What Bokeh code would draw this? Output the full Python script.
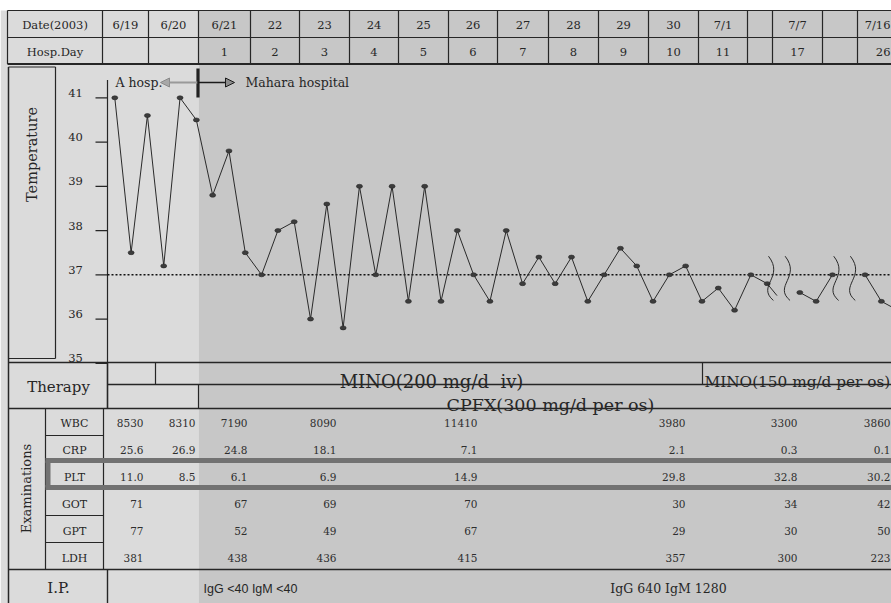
import math
from bokeh.plotting import figure
from bokeh.models import Range1d, Arrow, NormalHead
from bokeh.core.properties import value
from bokeh.embed import file_html
from bokeh.resources import INLINE

W, H = 891, 603

# ---------------- data ----------------
date_labels = ["6/19", "6/20", "6/21", "22", "23", "24", "25", "26", "27", "28",
               "29", "30", "7/1", "", "7/7", "", "7/16"]
hosp_day_labels = ["", "", "1", "2", "3", "4", "5", "6", "7", "8",
                   "9", "10", "11", "", "17", "", "26"]

# body temperature (deg C), three readings a day from 6/19
temp_main = [41.0, 37.5, 40.6, 37.2, 41.0, 40.5, 38.8, 39.8, 37.5, 37.0,
             38.0, 38.2, 36.0, 38.6, 35.8, 39.0, 37.0, 39.0, 36.4, 39.0,
             36.4, 38.0, 37.0, 36.4, 38.0, 36.8, 37.4, 36.8, 37.4, 36.4,
             37.0, 37.6, 37.2, 36.4, 37.0, 37.2, 36.4, 36.7, 36.2, 37.0, 36.8]
temp_jul7 = [36.6, 36.4, 37.0]
temp_jul16 = [37.0, 36.4, 36.2]
temp_ticks = [35, 36, 37, 38, 39, 40, 41]

exam_names = ["WBC", "CRP", "PLT", "GOT", "GPT", "LDH"]
wbc = ["8530", "8310", "7190", "8090", "11410", "3980", "3300", "3860"]
crp = ["25.6", "26.9", "24.8", "18.1", "7.1", "2.1", "0.3", "0.1"]
plt_count = ["11.0", "8.5", "6.1", "6.9", "14.9", "29.8", "32.8", "30.2"]
got = ["71", "", "67", "69", "70", "30", "34", "42"]
gpt = ["77", "", "52", "49", "67", "29", "30", "50"]
ldh = ["381", "", "438", "436", "415", "357", "300", "223"]

therapy_iv = "MINO(200 mg/d\u00a0 iv)"
therapy_os = "MINO(150 mg/d per os)"
therapy_cpfx = "CPFX(300 mg/d per os)"
ip_early = "IgG <40 IgM <40"
ip_late = "IgG 640 IgM 1280"

# ---------------- layout (page pixels) ----------------
col_edges = [102, 148, 198, 250, 299, 349, 398, 448, 497, 548, 598, 648,
             698, 747, 772, 822, 857, 907]
exam_col_right = [143, 195, 247, 336, 477, 685, 797, 890]
exam_row_y = [422.5 + 27 * i for i in range(6)]

SLOT_X0, SLOT_DX = 114.3, 16.31      # pixel of first reading, pixels per reading
Y37, PX_DEG = 274.3, 44.25           # pixel of 37 deg, pixels per degree

LIGHT, DARK = "#dbdbdb", "#c7c7c7"
INK = "#262626"
SERIF = value("DejaVu Serif")

p = figure(width=W, height=H, x_range=Range1d(0, W), y_range=Range1d(H, 0),
           min_border=0, toolbar_location=None, output_backend="svg",
           x_axis_location=None, y_axis_location=None)
p.grid.visible = False
p.outline_line_color = None
p.background_fill_color = "white"
p.border_fill_color = "white"

p.extra_x_ranges = {"slot": Range1d(-SLOT_X0 / SLOT_DX, (W - SLOT_X0) / SLOT_DX)}
p.extra_y_ranges = {"temp": Range1d(37 - (H - Y37) / PX_DEG, 37 + Y37 / PX_DEG)}

# shaded page: before and after admission to Mahara hospital
split = col_edges[2]
p.quad(left=[0, split], right=[split, W], top=[10, 10], bottom=[H, H],
       fill_color=[LIGHT, DARK], line_color=None)

# ---------------- rules ----------------
def hlines(xs0, xs1, ys, width=1.0, color=INK):
    p.segment(x0=xs0, x1=xs1, y0=ys, y1=ys, line_width=width, line_color=color)

def vlines(xs, ys0, ys1, width=1.0, color=INK):
    p.segment(x0=xs, x1=xs, y0=ys0, y1=ys1, line_width=width, line_color=color)

# header table
hlines([7, 7], [W, W], [10, 37], 1.2)
hlines([7], [W], [63.5], 2.0)
hdr_x = [7] + [e for e in col_edges if e < W]
vlines(hdr_x, [10] * len(hdr_x), [63.5] * len(hdr_x), 1.2)

# temperature label box and page left edge
hlines([8, 8], [55, 55], [66.5, 358], 1.2)
vlines([8], [66.5], [H], 1.5)
vlines([55], [66.5], [358], 1.2)

# therapy block
hlines([8, 107, 8], [W, W, W], [362, 384, 408], 1.4)
vlines([107], [362], [408], 1.6)
vlines([155, 702], [362, 362], [384, 384], 1.2)
vlines([198], [384], [408], 1.2)

# examinations block
vlines([45, 103], [408, 408], [569, 569], 1.2)
hlines([45] * 5, [103] * 5, [435, 461, 488, 515, 542], 1.2)
hlines([8], [W], [569], 1.5)
vlines([107], [569], [H], 1.4)
# PLT row highlight
hlines([45, 45], [W, W], [460, 487], 5, "#727272")
vlines([47.5], [460], [487], 5, "#727272")

# ---------------- header text ----------------
centers = [(col_edges[i] + col_edges[i + 1]) / 2 for i in range(len(date_labels))]
hdr_xs = [54.5] + centers[:-1]
p.text(x=hdr_xs, y=[24] * len(hdr_xs), text=["Date(2003)"] + date_labels[:-1],
       text_font=SERIF, text_font_size="11.5px", text_align="center",
       text_baseline="middle", text_color=INK)
p.text(x=hdr_xs, y=[51] * len(hdr_xs), text=["Hosp.Day"] + hosp_day_labels[:-1],
       text_font=SERIF, text_font_size="11.5px", text_align="center",
       text_baseline="middle", text_color=INK)
# last column runs off the page edge: keep its labels inside
p.text(x=[W - 1, W - 1], y=[24, 51], text=[date_labels[-1], hosp_day_labels[-1]],
       text_font=SERIF, text_font_size="11.5px", text_align="right",
       text_baseline="middle", text_color=INK)

# ---------------- temperature chart ----------------
p.text(x=[31], y=[154], text=["Temperature"], angle=math.pi / 2,
       text_font=SERIF, text_font_size="14.5px", text_align="center",
       text_baseline="middle", text_color=INK)

# axis line, ticks and labels
p.segment(x0=[107], x1=[107], y0=[35], y1=[41.4], y_range_name="temp",
          line_color=INK, line_width=1.2)
p.segment(x0=[95] * len(temp_ticks), x1=[107] * len(temp_ticks), y0=temp_ticks,
          y1=temp_ticks, y_range_name="temp", line_color=INK, line_width=1.2)
p.text(x=[75] * len(temp_ticks), y=temp_ticks, text=[str(t) for t in temp_ticks],
       y_range_name="temp", y_offset=-5, text_font=SERIF, text_font_size="11.5px",
       text_align="center", text_baseline="middle", text_color=INK)

# 37 deg reference
p.segment(x0=[107], x1=[W], y0=[37], y1=[37], y_range_name="temp",
          line_color="#111111", line_width=1.4, line_dash="2 2")

slot_main = list(range(len(temp_main)))
slot_jul7 = [slot_main[-1] + 2 + i for i in range(len(temp_jul7))]
slot_jul16 = [slot_jul7[-1] + 2 + i for i in range(len(temp_jul16))]

for slots, temps in ((slot_main, temp_main), (slot_jul7, temp_jul7), (slot_jul16, temp_jul16)):
    p.line(x=slots, y=temps, x_range_name="slot", y_range_name="temp",
           line_color="#2a2a2a", line_width=1.0)
    p.ellipse(x=slots, y=temps, width=6, height=4, width_units="screen",
              height_units="screen", x_range_name="slot", y_range_name="temp",
              fill_color="#3c3c3c", line_color="#2a2a2a", line_width=0.6)

# short run-off after the last reading before the break
p.line(x=[slot_main[-1], slot_main[-1] + 0.6], y=[temp_main[-1], temp_main[-1] - 0.27],
       x_range_name="slot", y_range_name="temp", line_color="#2a2a2a", line_width=1.0)

# wavy break marks where days are skipped
breaks = []
for gap_slot in (slot_main[-1] + 1, slot_jul7[-1] + 1):
    breaks += [gap_slot - 0.92, gap_slot + 0.1]
p.bezier(x0=breaks, y0=[37.42] * 4, x1=[b + 0.3 for b in breaks], y1=[36.42] * 4,
         cx0=[b + 1.0 for b in breaks], cy0=[36.95] * 4,
         cx1=[b - 0.75 for b in breaks], cy1=[36.75] * 4,
         x_range_name="slot", y_range_name="temp", line_color="#2a2a2a", line_width=1.0)

# transfer annotation
p.add_layout(Arrow(x_start=197, y_start=82, x_end=160, y_end=82,
                   line_color="#9a9a9a", line_width=2,
                   end=NormalHead(size=9, fill_color="#a8a8a8", line_color="#8a8a8a")))
p.add_layout(Arrow(x_start=197, y_start=82, x_end=234, y_end=82,
                   line_color="#1a1a1a", line_width=1.5,
                   end=NormalHead(size=9, fill_color="#8c8c8c", line_color="#1a1a1a")))
vlines([197.5], [68], [97], 3.2, "#222222")
p.text(x=[115, 245], y=[82, 82], text=["A hosp.", "Mahara hospital"],
       text_font=SERIF, text_font_size="12.5px", text_align="left",
       text_baseline="middle", text_color=INK)

# ---------------- therapy ----------------
p.text(x=[58], y=[386], text=["Therapy"], text_font=SERIF, text_font_size="15px",
       text_align="center", text_baseline="middle", text_color=INK)
p.text(x=[431], y=[381], text=[therapy_iv], text_font=SERIF, text_font_size="18px",
       text_align="center", text_baseline="alphabetic", text_color=INK)
p.text(x=[704], y=[381], text=[therapy_os], text_font=SERIF, text_font_size="15.3px",
       text_align="left", text_baseline="alphabetic", text_color=INK)
p.text(x=[550], y=[404], text=[therapy_cpfx], text_font=SERIF, text_font_size="17.5px",
       text_align="center", text_baseline="alphabetic", text_color=INK)

# ---------------- examinations ----------------
p.text(x=[26], y=[488], text=["Examinations"], angle=math.pi / 2,
       text_font=SERIF, text_font_size="13px", text_align="center",
       text_baseline="middle", text_color=INK)
p.text(x=[74] * 6, y=exam_row_y, text=exam_names, text_font=SERIF,
       text_font_size="11px", text_align="center", text_baseline="middle", text_color=INK)

xs, ys, txt = [], [], []
for row_y, row in zip(exam_row_y, (wbc, crp, plt_count, got, gpt, ldh)):
    for cx, v in zip(exam_col_right, row):
        xs.append(cx)
        ys.append(row_y)
        txt.append(v)
p.text(x=xs, y=ys, text=txt, text_font=SERIF, text_font_size="10.5px",
       text_align="right", text_baseline="middle", text_color="#2e2e2e")

# ---------------- I.P. ----------------
p.text(x=[58], y=[587], text=["I.P."], text_font=SERIF, text_font_size="15px",
       text_align="center", text_baseline="middle", text_color=INK)
p.text(x=[250], y=[588], text=[ip_early], text_font=value("Liberation Sans"),
       text_font_size="12.5px", text_align="center", text_baseline="middle", text_color=INK)
p.text(x=[668], y=[588], text=[ip_late], text_font=SERIF, text_font_size="12.5px",
       text_align="center", text_baseline="middle", text_color=INK)

open("out.html", "w").write(file_html(p, INLINE))
